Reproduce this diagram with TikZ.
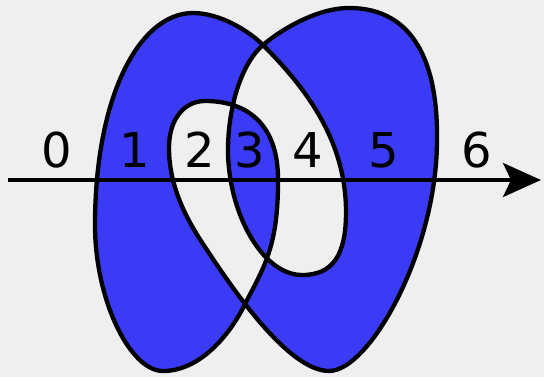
\documentclass[tikz,border=0pt]{standalone}
\usepackage{fontspec}
\setmainfont{DejaVu Sans}
\usetikzlibrary{arrows.meta}
\definecolor{bgcol}{HTML}{EFEFEF}
\definecolor{lobeblue}{HTML}{3B3BF6}
\tikzset{
  digit/.style={inner sep=0pt, anchor=base, font=\fontsize{48}{48}\selectfont},
  curvestyle/.style={draw=black, fill=lobeblue, even odd rule, line width=4.3pt, line join=round},
  axisstyle/.style={draw=black, line width=3.2pt, -{Stealth[length=38pt,width=34pt,inset=8pt]}}
}
\begin{document}
\begin{tikzpicture}[x=1pt,y=-1pt]
\fill[bgcol] (0,0) rectangle (544,377);
\useasboundingbox (0,0) rectangle (544,377);
\path[curvestyle] (163,371)
  .. controls (200,371) and (229,335) .. (243,308)
  .. controls (251,292) and (261,275) .. (267,258)
  .. controls (276,234) and (278,207) .. (278,182)
  .. controls (279,125) and (248,101) .. (205,101)
  .. controls (185,101) and (169,118) .. (169,148)
  .. controls (169,190) and (190,225) .. (207,250)
  .. controls (234,291) and (289,371) .. (329,371)
  .. controls (370,371) and (437,250) .. (437,140)
  .. controls (438,65) and (415,8) .. (349,8)
  .. controls (315,8) and (278,32) .. (263,45)
  .. controls (240,65) and (228,110) .. (228,150)
  .. controls (228,212) and (262,275) .. (302,275)
  .. controls (333,275) and (346,255) .. (346,212)
  .. controls (346,140) and (305,87) .. (263,45)
  .. controls (249,31) and (220,13) .. (193,13)
  .. controls (140,13) and (95,95) .. (95,225)
  .. controls (95,300) and (130,371) .. cycle;
\coordinate (axstart) at (8,180);
\coordinate (axend) at (541,180);
\draw[axisstyle] (axstart) -- (axend);
\node[digit] (n0) at (56.5,168) {0};
\node[digit] (n1) at (135,168) {1};
\node[digit] (n2) at (200,168) {2};
\node[digit] (n3) at (249.5,168) {3};
\node[digit] (n4) at (308,168) {4};
\node[digit] (n5) at (383.5,168) {5};
\node[digit] (n6) at (476.5,168) {6};
\end{tikzpicture}
\end{document}
